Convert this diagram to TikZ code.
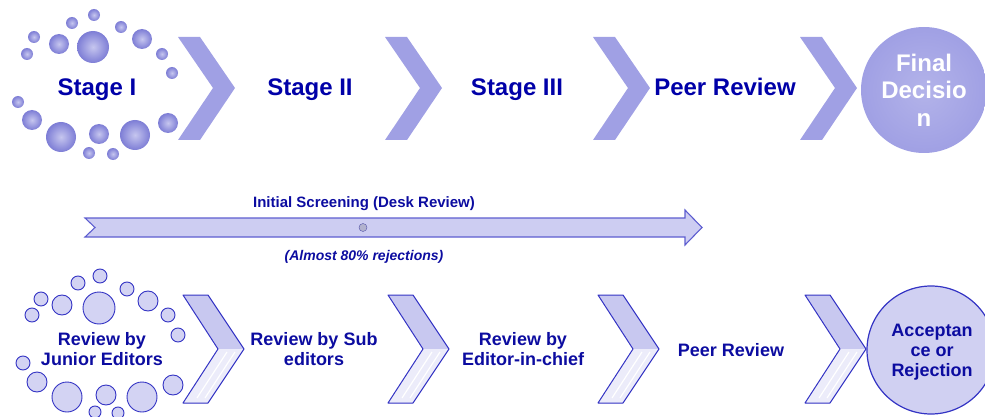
\documentclass[tikz,border=0pt]{standalone}
\usepackage{fontspec}
\setmainfont{Liberation Sans}
\definecolor{stagefill}{HTML}{A0A0E4}
\definecolor{stagetext}{HTML}{0000A8}
\definecolor{reviewfill}{HTML}{C8C8F0}
\definecolor{reviewline}{HTML}{3434C4}
\definecolor{reviewtext}{HTML}{0C0CA0}
\tikzset{
  topbubble/.style={inner color=stagefill!60!white, outer color=stagefill!85!blue!92!black},
  lowbubble/.style={fill=reviewfill!80!white, draw=reviewline, line width=0.9pt},
  toplabel/.style={text=stagetext, font=\fontsize{24}{27.5}\selectfont\bfseries, anchor=base},
  lowlabel/.style={text=reviewtext, font=\fontsize{18}{20}\selectfont\bfseries, align=center},
}
\begin{document}
\begin{tikzpicture}[x=1pt,y=-1pt]
	\useasboundingbox (0,0) rectangle (985,417);
	% upper row: stages
	\foreach \x/\y/\r in {94/15/6,72/23/6,121/27/6,34/37/6,59/44/10,93/47/16,142/39/10,27/54/6,162/54/6,172/73/6,
	                      18/102/6,32/120/10,61/137/15,99/134/10,135/135/15,168/123/10,89/153/6,113/154/6}
		\shade[topbubble] (\x,\y) circle (\r pt);
	\foreach \x in {178,385,593,800}
		\fill[stagefill] (\x,37) -- ++(22,0) -- ++(35,51) -- ++(-35,52) -- ++(-22,0) -- ++(35,-52) -- cycle;
	\node[toplabel] (st1) at (97,96) {Stage I};
	\node[toplabel] (st2) at (310,96) {Stage II};
	\node[toplabel] (st3) at (517,96) {Stage III};
	\node[toplabel] (peer) at (725,96) {Peer Review};
	\shade[inner color=stagefill!80!white, outer color=stagefill] (924,90) circle (63pt);
	\node[toplabel, text=white, anchor=center, align=center] (final) at (924,90) {Final\\Decisio\\n};
	% screening arrow
	\draw[fill=reviewfill!90!white, draw=reviewline!80!white, line width=1.1pt]
		(85,218) -- (685,218) -- (685,210) -- (702,227.5) -- (685,245) -- (685,237) -- (85,237) -- (95,227.5) -- cycle;
	\node[circle, draw=reviewline!60!gray, fill=reviewfill!70!gray, minimum size=8pt, inner sep=0pt] (mark) at (363,227.5) {};
	\node[anchor=base, text=reviewtext, font=\fontsize{15}{17}\selectfont\bfseries] (desk) at (364,207.5) {Initial Screening (Desk Review)};
	\node[anchor=base, text=reviewtext, font=\fontsize{14}{16}\selectfont\bfseries\itshape] (rej) at (364,260) {(Almost 80\% rejections)};
	% lower row: reviewers
	\foreach \x/\y/\r in {100/276/7,78/283/7,127/289/7,41/299/7,62/305/10,99/308/16,148/301/10,32/315/7,168/315/7,178/335/7,
	                      23/363/7,37/382/10,67/397/15,106/395/10,142/397/15,173/385/10,95/412/6,118/413/6}
		\draw[lowbubble] (\x,\y) circle (\r pt);
	\foreach \x in {183,388,598,805} {
		\fill[reviewfill] (\x,295) -- ++(25,0) -- ++(36,54) -- ++(-36,54) -- ++(-25,0) -- ++(35,-54) -- cycle;
		\fill[reviewfill!35!white] (\x+35,349) -- ++(26,0) -- ++(-36,54) -- ++(-25,0) -- cycle;
		\draw[white, line width=1.2pt] (\x+44,352) -- ++(-30,46);
		\draw[white, line width=1.2pt] (\x+52,352) -- ++(-30,46);
		\draw[reviewline, line width=1pt, line join=round] (\x,295) -- ++(25,0) -- ++(36,54) -- ++(-36,54) -- ++(-25,0) -- ++(35,-54) -- cycle;
	}
	\node[lowlabel] (junior) at (102,349.5) {Review by\\Junior Editors};
	\node[lowlabel] (sub) at (314,349.5) {Review by Sub\\editors};
	\node[lowlabel] (chief) at (523,349.5) {Review by\\Editor-in-chief};
	\node[lowlabel, anchor=base] (peer2) at (731,356) {Peer Review};
	\draw[fill=reviewfill!85!white, draw=reviewline, line width=1.2pt] (931,350) circle (64pt);
	\node[lowlabel] (accept) at (932,352.4) {Acceptan\\ce or\\Rejection};
\end{tikzpicture}
\end{document}
